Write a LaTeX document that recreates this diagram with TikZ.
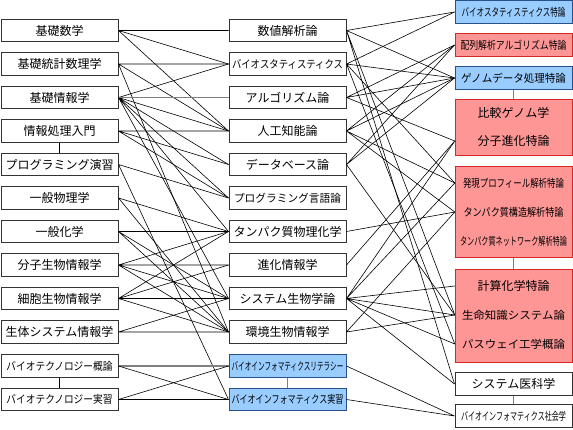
\documentclass[tikz,border=0pt]{standalone}
\usepackage{fontspec}
\setmainfont{Noto Sans CJK JP}
\usepackage{graphicx}
\newcommand{\sq}[2]{\resizebox{#1}{\height}{\fontsize{11}{13}\selectfont #2}}
\definecolor{bluefill}{RGB}{153,204,255}
\definecolor{blueline}{RGB}{40,80,140}
\definecolor{redfill}{RGB}{255,150,150}
\definecolor{redline}{RGB}{215,40,40}
\tikzset{
  course/.style={draw=black!80, line width=1pt, fill=white, minimum width=117pt,
    minimum height=22.5pt, inner sep=0pt, font=\fontsize{12}{14}\selectfont},
  bluebox/.style={course, draw=blueline, fill=bluefill},
  redbox/.style={course, draw=redline, fill=redfill},
  row/.style={minimum width=117pt, inner sep=0pt, font=\fontsize{12}{14}\selectfont},
  link/.style={black, line width=0.6pt},
  graylink/.style={black!50, line width=1.3pt}
}
\begin{document}
\begin{tikzpicture}[x=1pt, y=-1pt]
  \useasboundingbox (0,0) rectangle (573,429);
  % left column
  \node[course] (kisosugaku) at (59.5,30.5) {基礎数学};
  \node[course] (kisotoukei) at (59.5,64) {基礎統計数理学};
  \node[course] (kisojoho) at (59.5,97.5) {基礎情報学};
  \node[course] (johoshori) at (59.5,131) {情報処理入門};
  \node[course] (progen) at (59.5,164.5) {プログラミング演習};
  \node[course] (butsuri) at (59.5,198) {一般物理学};
  \node[course] (kagaku) at (59.5,231.5) {一般化学};
  \node[course] (bunshi) at (59.5,265) {分子生物情報学};
  \node[course] (saibou) at (59.5,298.5) {細胞生物情報学};
  \node[course] (seitai) at (59.5,332) {生体システム情報学};
  \node[course] (biotechg) at (59.5,366) {\sq{106pt}{バイオテクノロジー概論}};
  \node[course] (biotechj) at (59.5,399.5) {\sq{106pt}{バイオテクノロジー実習}};
  % middle column
  \node[course] (suchi) at (287.5,30.5) {数値解析論};
  \node[course] (biostat) at (287.5,64) {\sq{111pt}{バイオスタティスティクス}};
  \node[course] (algo) at (287.5,97.5) {アルゴリズム論};
  \node[course] (jinko) at (287.5,131) {人工知能論};
  \node[course] (dbase) at (287.5,164.5) {データベース論};
  \node[course] (proglang) at (287.5,198) {\sq{107pt}{プログラミング言語論}};
  \node[course] (tanpaku) at (287.5,231.5) {タンパク質物理化学};
  \node[course] (shinka) at (287.5,265) {進化情報学};
  \node[course] (sysbio) at (287.5,298.5) {システム生物学論};
  \node[course] (kankyo) at (287.5,332) {環境生物情報学};
  \node[bluebox] (literacy) at (287.5,366) {\sq{112pt}{バイオインフォマティクスリテラシー}};
  \node[bluebox] (jisshu) at (287.5,399.5) {\sq{112pt}{バイオインフォマティクス実習}};
  % right column
  \node[bluebox] (biostatt) at (513.5,12) {\sq{104pt}{バイオスタティスティクス特論}};
  \node[redbox] (hairetsu) at (513.5,45) {\sq{106pt}{配列解析アルゴリズム特論}};
  \node[bluebox] (genome) at (513.5,78) {\sq{105pt}{ゲノムデータ処理特論}};
  \node[redbox, minimum height=56pt] (hikakubox) at (513.5,127) {};
  \node[row] (hikaku) at (513.5,113) {比較ゲノム学};
  \node[row] (bunshishinka) at (513.5,141) {分子進化特論};
  \node[redbox, minimum height=91pt] (hatsugenbox) at (513.5,211.5) {};
  \node[row] (hatsugen) at (513.5,183) {\sq{101pt}{発現プロフィール解析特論}};
  \node[row] (kouzou) at (513.5,212) {\sq{100pt}{タンパク質構造解析特論}};
  \node[row] (network) at (513.5,241) {\sq{107pt}{タンパク質ネットワーク解析特論}};
  \node[redbox, minimum height=93pt] (keisanbox) at (513.5,315.5) {};
  \node[row] (keisan) at (513.5,286) {計算化学特論};
  \node[row] (seimei) at (513.5,315) {\sq{103pt}{生命知識システム論}};
  \node[row] (pathway) at (513.5,344) {\sq{103pt}{パスウェイ工学概論}};
  \node[course] (iryo) at (513.5,384) {システム医科学};
  \node[course] (shakai) at (513.5,416) {\sq{105pt}{バイオインフォマティクス社会学}};
  % vertical links
  \draw[link] (johoshori) -- (progen);
  \draw[link] (biotechg) -- (biotechj);
  \draw[graylink] (literacy) -- (jisshu);
  \draw[graylink] (genome) -- (hikakubox);
  \draw[graylink] (hatsugenbox) -- (keisanbox);
  \draw[graylink] (iryo) -- (shakai);
  % left to middle
  \draw[link] (kisosugaku.east) -- (suchi.west) (kisosugaku.east) -- (biostat.west)
    (kisosugaku.east) -- (jinko.west);
  \draw[link] (kisotoukei.east) -- (biostat.west) (kisotoukei.east) -- (jinko.west)
    (kisotoukei.east) -- (kankyo.west);
  \draw[link] (kisojoho.east) -- (biostat.west) (kisojoho.east) -- (jinko.west)
    (kisojoho.east) -- (dbase.west) (kisojoho.east) -- (proglang.west)
    (kisojoho.east) -- (tanpaku.west) (kisojoho.east) -- (sysbio.west);
  \draw[graylink] (kisojoho.east) -- (algo.west);
  \draw[link] (johoshori.east) -- (jinko.west) (johoshori.east) -- (dbase.west)
    (johoshori.east) -- (proglang.west);
  \draw[link] (progen.east) -- (proglang.west) (progen.east) -- (jisshu.west);
  \draw[link] (butsuri.east) -- (tanpaku.west) (butsuri.east) -- (kankyo.west);
  \draw[link] (kagaku.east) -- (tanpaku.west) (kagaku.east) -- (sysbio.west)
    (kagaku.east) -- (kankyo.west);
  \draw[link] (bunshi.east) -- (tanpaku.west) (bunshi.east) -- (shinka.west)
    (bunshi.east) -- (sysbio.west) (bunshi.east) -- (kankyo.west);
  \draw[link] (saibou.east) -- (tanpaku.west) (saibou.east) -- (shinka.west)
    (saibou.east) -- (sysbio.west) (saibou.east) -- (kankyo.west);
  \draw[link] (seitai.east) -- (sysbio.west) (seitai.east) -- (kankyo.west);
  \draw[graylink] (biotechg.east) -- (literacy.west);
  \draw[link] (biotechg.east) -- (jisshu.west);
  \draw[link] (biotechj.east) -- (literacy.west) (biotechj.east) -- (jisshu.west);
  % middle to right
  \draw[link] (suchi.east) -- (biostatt.west) (suchi.east) -- (genome.west)
    (suchi.east) -- (seimei.west) (suchi.east) -- (iryo.west);
  \draw[link] (biostat.east) -- (biostatt.west) (biostat.east) -- (genome.west)
    (biostat.east) -- (hatsugen.west) (biostat.east) -- (pathway.west);
  \draw[link] (algo.east) -- (hairetsu.west) (algo.east) -- (genome.west)
    (algo.east) -- (bunshishinka.west);
  \draw[link] (jinko.east) -- (hairetsu.west) (jinko.east) -- (genome.west)
    (jinko.east) -- (hatsugen.west) (jinko.east) -- (kouzou.west);
  \draw[link] (dbase.east) -- (hairetsu.west) (dbase.east) -- (genome.west)
    (dbase.east) -- (seimei.west);
  \draw[link] (tanpaku.east) -- (kouzou.west);
  \draw[link] (shinka.east) -- (bunshishinka.west);
  \draw[link] (sysbio.east) -- (bunshishinka.west) (sysbio.east) -- (hatsugen.west)
    (sysbio.east) -- (keisan.west) (sysbio.east) -- (seimei.west)
    (sysbio.east) -- (pathway.west) (sysbio.east) -- (iryo.west);
  \draw[link] (kankyo.east) -- (kouzou.west) (kankyo.east) -- (seimei.west);
  \draw[link] (literacy.east) -- (shakai.west) (jisshu.east) -- (shakai.west);
\end{tikzpicture}
\end{document}
